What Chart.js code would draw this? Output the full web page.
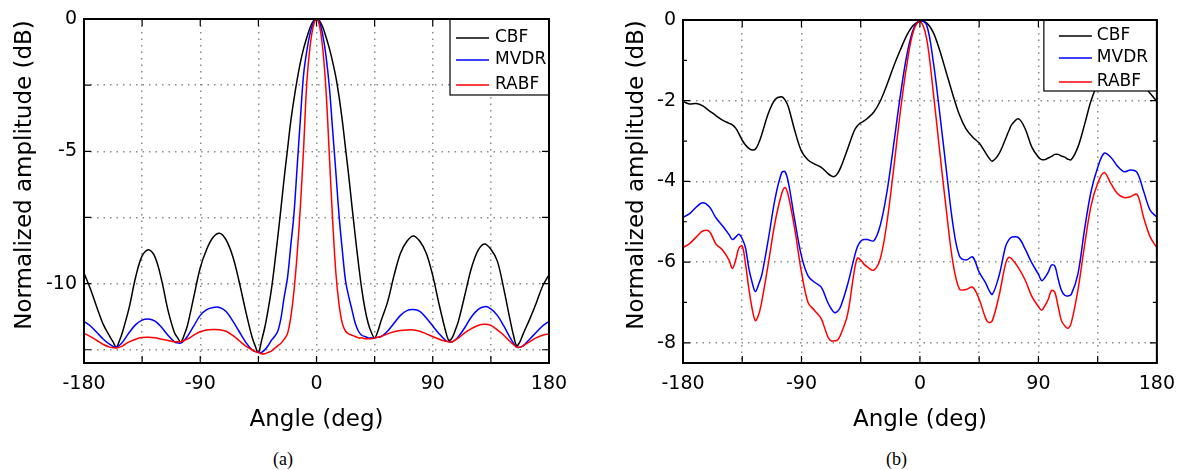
<!DOCTYPE html>
<html>
<head>
<meta charset="utf-8">
<script src="https://cdn.jsdelivr.net/npm/chart.js@4.4.1/dist/chart.umd.min.js"></script>
<style>
  body { margin: 0; background: #fff; width: 1185px; height: 470px; position: relative; overflow: hidden; }
  canvas { position: absolute; top: 0; }
  .cap { position: absolute; top: 450px; font: 18px "Liberation Serif", serif; line-height: 18px; color: #000; }
</style>
</head>
<body>
<canvas id="chartA" width="600" height="440" style="left:0"></canvas>
<canvas id="chartB" width="585" height="440" style="left:600px"></canvas>
<div class="cap" style="left:273px">(a)</div>
<div class="cap" style="left:886px">(b)</div>
<script>
// ---- data (a) ----
const anglesA = [
  -180, -175, -170, -165, -160, -157.5, -155, -152.5, -150, -145, -140, -135, -130, -125, -120, -115, -110,
  -107.5, -105, -102.5, -100, -95, -90, -85, -80, -75, -70, -65, -60, -55, -50, -47.5, -45,
  -42.5, -40, -37.5, -35, -32.5, -30, -27.5, -25, -22.5, -20, -17.5, -15, -12.5, -10, -7.5, -5, -2.5,
  0, 2.5, 5, 7.5, 10, 12.5, 15, 17.5, 20, 22.5, 25, 27.5, 30, 32.5, 35, 37.5, 40, 42.5,
  45, 47.5, 50, 55, 60, 65, 70, 75, 80, 85, 90, 95, 100, 102.5, 105, 107.5, 110,
  115, 120, 125, 130, 135, 140, 145, 150, 152.5, 155, 157.5, 160, 165, 170, 175, 180
];
const cbfA = [
  -9.6, -10.2, -10.9, -11.55, -12.0, -12.2, -12.4, -12.15, -11.8, -10.9, -9.75, -8.95, -8.72, -9.0, -9.85, -11.0, -11.85,
  -12.05, -12.2, -11.95, -11.6, -10.5, -9.4, -8.7, -8.25, -8.1, -8.35, -8.95, -9.9, -11.0, -12.0, -12.35, -12.6,
  -12.15, -11.65, -11.0, -10.25, -9.3, -8.25, -7.15, -6.0, -4.95, -3.9, -3.05, -2.3, -1.65, -1.12, -0.7, -0.33, -0.08,
  0, -0.08, -0.33, -0.7, -1.12, -1.62, -2.2, -2.95, -3.85, -4.9, -5.95, -7.1, -8.2, -9.25, -10.2, -10.95, -11.5, -11.85,
  -12.05, -11.8, -11.4, -10.7, -9.7, -8.85, -8.4, -8.2, -8.4, -8.85, -9.7, -10.8, -11.8, -12.15, -12.05, -11.75, -11.4,
  -10.4, -9.4, -8.75, -8.5, -8.7, -9.15, -10.2, -11.4, -11.95, -12.35, -12.2, -11.9, -11.35, -10.75, -10.1, -9.66
];
const mvdrA = [
  -11.43, -11.6, -11.85, -12.1, -12.3, -12.37, -12.4, -12.33, -12.2, -11.85, -11.55, -11.38, -11.34, -11.42, -11.65, -11.95, -12.2,
  -12.24, -12.25, -12.15, -12.0, -11.6, -11.2, -10.98, -10.9, -10.9, -11.05, -11.4, -11.8, -12.2, -12.5, -12.57, -12.6,
  -12.6, -12.5, -12.35, -12.15, -12.0, -11.8, -11.3, -10.5, -9.8, -8.6, -7.4, -5.6, -3.8, -2.1, -1.2, -0.55, -0.15,
  0, -0.15, -0.65, -1.45, -2.6, -4.2, -5.8, -7.45, -8.75, -9.9, -10.5, -11.0, -11.5, -11.8, -11.95, -12.0, -12.05, -12.05,
  -12.05, -12.03, -12.0, -11.8, -11.5, -11.2, -11.02, -10.98, -11.05, -11.3, -11.6, -11.9, -12.15, -12.2, -12.2, -12.12, -12.0,
  -11.65, -11.25, -10.98, -10.87, -10.95, -11.2, -11.6, -12.05, -12.25, -12.4, -12.4, -12.35, -12.1, -11.85, -11.6, -11.43
];
const rabfA = [
  -11.88, -12.0, -12.15, -12.3, -12.4, -12.42, -12.43, -12.4, -12.35, -12.2, -12.1, -12.04, -12.03, -12.05, -12.1, -12.15, -12.2,
  -12.2, -12.2, -12.15, -12.1, -11.95, -11.82, -11.75, -11.73, -11.74, -11.8, -11.95, -12.15, -12.35, -12.5, -12.56, -12.6,
  -12.65, -12.65, -12.6, -12.55, -12.45, -12.35, -12.25, -12.1, -11.9, -11.3, -10.3, -8.9, -7.1, -4.9, -2.4, -1.05, -0.28,
  0, -0.3, -1.2, -2.8, -5.2, -7.6, -9.6, -10.8, -11.5, -11.8, -11.9, -11.95, -12.0, -12.05, -12.05, -12.08, -12.08, -12.08,
  -12.05, -12.03, -12.0, -11.9, -11.82, -11.77, -11.75, -11.75, -11.8, -11.9, -12.0, -12.1, -12.18, -12.2, -12.2, -12.13, -12.05,
  -11.85, -11.7, -11.58, -11.54, -11.58, -11.75, -11.95, -12.2, -12.3, -12.4, -12.4, -12.35, -12.2, -12.05, -11.95, -11.9
];

// ---- data (b) ----
const anglesB = [
  -180, -175, -170, -165, -160, -155, -150, -145, -142.5, -140, -137.5, -135, -132.5, -130, -127.5,
  -125, -122.5, -120, -115, -110, -105, -102.5, -100, -95, -90, -85, -80, -75, -70, -67.5,
  -65, -62.5, -60, -55, -50, -47.5, -45, -42.5, -40, -35, -30, -25, -20, -15, -10,
  -5, 0, 5, 10, 15, 20, 25, 30, 35, 40, 45, 50, 52.5, 55, 60,
  65, 67.5, 70, 75, 80, 85, 90, 92.5, 95, 97.5, 100, 102.5, 105, 107.5, 110,
  112.5, 115, 120, 125, 130, 135, 140, 145, 150, 155, 160, 165, 170, 175, 180
];
const cbfB = [
  -2.02, -2.08, -2.07, -2.13, -2.25, -2.37, -2.48, -2.56, -2.6, -2.68, -2.82, -2.98, -3.1, -3.18, -3.22,
  -3.2, -3.05, -2.82, -2.3, -1.97, -1.9, -1.98, -2.15, -2.75, -3.25, -3.47, -3.57, -3.65, -3.8, -3.86,
  -3.88, -3.8, -3.64, -3.2, -2.75, -2.62, -2.55, -2.5, -2.44, -2.28, -2.0, -1.6, -1.15, -0.75, -0.38,
  -0.13, -0.03, -0.07, -0.3, -0.75, -1.3, -1.85, -2.35, -2.7, -2.9, -3.05, -3.3, -3.42, -3.5, -3.32,
  -2.95, -2.75, -2.58, -2.45, -2.7, -3.15, -3.4, -3.46, -3.46, -3.42, -3.38, -3.33, -3.33, -3.37, -3.4,
  -3.45, -3.46, -3.15, -2.6, -2.0, -1.6, -1.4, -1.3, -1.28, -1.3, -1.38, -1.5, -1.65, -1.82, -2.02
];
const mvdrB = [
  -4.89, -4.8, -4.64, -4.53, -4.63, -4.9, -5.1, -5.32, -5.44, -5.38, -5.31, -5.42, -5.65, -6.15, -6.5,
  -6.73, -6.55, -6.3, -5.4, -4.42, -3.78, -3.76, -4.02, -4.98, -5.85, -6.34, -6.5, -6.62, -7.0, -7.15,
  -7.25, -7.22, -7.08, -6.56, -5.9, -5.62, -5.48, -5.44, -5.44, -5.47, -5.07, -4.25, -3.1, -1.9, -0.88,
  -0.23, -0.02, -0.12, -1.0, -2.3, -3.7, -5.05, -5.85, -5.95, -5.87, -6.25, -6.52, -6.7, -6.8, -6.35,
  -5.62, -5.45, -5.38, -5.4, -5.68, -6.02, -6.3, -6.46, -6.38, -6.25, -6.07, -6.1, -6.42, -6.7, -6.82,
  -6.84, -6.8, -6.3, -5.2, -4.25, -3.66, -3.3, -3.4, -3.62, -3.76, -3.72, -3.78, -4.25, -4.72, -4.88
];
const rabfB = [
  -5.64, -5.54, -5.38, -5.23, -5.24, -5.55, -5.7, -5.95, -6.16, -5.95, -5.65, -5.6, -6.05, -6.65, -7.15,
  -7.45, -7.3, -6.95, -6.0, -5.0, -4.3, -4.15, -4.35, -5.2, -6.25, -7.0, -7.2, -7.4, -7.85, -7.95,
  -7.95, -7.93, -7.78, -7.3, -6.25, -5.9, -5.95, -6.05, -6.12, -6.2, -5.9, -5.0, -3.7, -2.3, -1.12,
  -0.28, -0.03, -0.45, -1.75, -3.25, -4.7, -6.0, -6.67, -6.68, -6.62, -6.92, -7.4, -7.5, -7.45, -6.85,
  -6.05, -5.88, -5.93, -6.15, -6.45, -6.85, -7.1, -7.19, -7.08, -6.92, -6.7, -6.75, -7.1, -7.45, -7.58,
  -7.64, -7.5, -6.7, -5.6, -4.6, -4.05, -3.78, -4.05, -4.3, -4.4, -4.38, -4.32, -4.9, -5.38, -5.64
];

const seriesNames = ['CBF', 'MVDR', 'RABF'];
const seriesColors = ['#000000', '#0000ff', '#ff0000'];
const xLabels = [-180, -90, 0, 90, 180];
const yLabelsA = [0, -5, -10];
const yLabelsB = [0, -2, -4, -6, -8];

Chart.defaults.font.family = 'DejaVu Sans';
Chart.defaults.color = '#000';

const toPoints = (xs, ys) => xs.map((x, i) => ({ x: x, y: ys[i] }));

// frame box, inward ticks, in-plot legend and axis titles
const framePlugin = {
    id: 'frame',
    afterDatasetsDraw(chart, args, opts) {
        const { ctx, chartArea: a, scales: { x, y } } = chart;
        ctx.save();
        ctx.strokeStyle = '#000';
        ctx.lineWidth = 1.2;
        ctx.beginPath();
        x.ticks.forEach(t => {
            const px = x.getPixelForValue(t.value);
            ctx.moveTo(px, a.bottom); ctx.lineTo(px, a.bottom - 7);
            ctx.moveTo(px, a.top); ctx.lineTo(px, a.top + 7);
        });
        y.ticks.forEach(t => {
            const py = y.getPixelForValue(t.value);
            const len = opts.minor && opts.minor(t.value) ? 4 : 7;
            ctx.moveTo(a.left, py); ctx.lineTo(a.left + len, py);
            ctx.moveTo(a.right, py); ctx.lineTo(a.right - len, py);
        });
        ctx.stroke();

        // legend
        const lg = opts.legend;
        const lx = a.right - lg.w, ly = a.top;
        ctx.fillStyle = '#fff';
        ctx.fillRect(lx, ly, lg.w, lg.h);
        ctx.lineWidth = 1.2;
        ctx.strokeRect(lx, ly, lg.w, lg.h);
        ctx.font = '17px "DejaVu Sans"';
        ctx.textBaseline = 'middle';
        ctx.textAlign = 'left';
        seriesNames.forEach((name, i) => {
            const ry = ly + lg.rows[i];
            ctx.strokeStyle = seriesColors[i];
            ctx.lineWidth = 1.5;
            ctx.beginPath();
            ctx.moveTo(lx + lg.line[0], ry); ctx.lineTo(lx + lg.line[1], ry);
            ctx.stroke();
            ctx.fillStyle = '#000';
            ctx.fillText(name, lx + lg.textX, ry);
        });

        // frame
        ctx.strokeStyle = '#000';
        ctx.lineWidth = 2;
        ctx.strokeRect(a.left, a.top, a.width, a.height);

        // axis titles
        ctx.fillStyle = '#000';
        ctx.font = '23px "DejaVu Sans"';
        ctx.textBaseline = 'alphabetic';
        ctx.textAlign = 'center';
        ctx.fillText('Angle (deg)', (a.left + a.right) / 2, opts.xTitleY);
        ctx.translate(opts.yTitle[0], opts.yTitle[1]);
        ctx.rotate(-Math.PI / 2);
        ctx.fillText('Normalized amplitude (dB)', 0, 0);
        ctx.restore();
    }
};

function makeChart(id, angles, values, yMin, yStep, yLabels, pad, yWidth, frameOpts) {
    const canvas = document.getElementById(id);
    return new Chart(canvas, {
        type: 'line',
        data: {
            datasets: values.map((vals, i) => ({
                label: seriesNames[i],
                data: toPoints(angles, vals),
                borderColor: seriesColors[i],
                borderWidth: 1.5,
                pointRadius: 0,
                tension: 0.35,
                fill: false
            })).reverse()
        },
        options: {
            responsive: false,
            devicePixelRatio: 1,
            animation: false,
            events: [],
            layout: { autoPadding: false, padding: pad },
            plugins: {
                legend: { display: false },
                tooltip: { enabled: false },
                frame: frameOpts
            },
            scales: {
                x: {
                    type: 'linear',
                    min: -180,
                    max: 180,
                    afterFit: s => { s.height = 77; },
                    ticks: {
                        stepSize: 45,
                        autoSkip: false,
                        maxRotation: 0,
                        includeBounds: false,
                        padding: 10,
                        font: { size: 19 },
                        callback: v => xLabels.includes(v) ? String(v) : ''
                    },
                    grid: { color: '#8a8a8a', lineWidth: 1.5, drawTicks: false, borderDash: [1.5, 5] },
                    border: { display: false, dash: [1.5, 5] }
                },
                y: {
                    min: yMin,
                    max: 0,
                    afterFit: s => { s.width = yWidth; },
                    ticks: {
                        stepSize: yStep,
                        autoSkip: false,
                        includeBounds: false,
                        padding: 7,
                        font: { size: 19 },
                        callback: v => yLabels.includes(v) ? String(v) : ''
                    },
                    grid: {
                        color: c => (frameOpts.minor && frameOpts.minor(c.tick.value)) ? 'rgba(0,0,0,0)' : '#8a8a8a',
                        lineWidth: 1.5,
                        drawTicks: false,
                        borderDash: [1.5, 5]
                    },
                    border: { display: false, dash: [1.5, 5] }
                }
            }
        },
        plugins: [framePlugin]
    });
}

document.addEventListener('DOMContentLoaded', () => {
    makeChart('chartA', anglesA, [cbfA, mvdrA, rabfA], -13, 2.5, yLabelsA,
        { left: 0, top: 19, right: 51, bottom: 0 }, 84,
        {
            legend: { w: 99, h: 76, rows: [19, 41, 66], line: [6, 39], textX: 45 },
            xTitleY: 426,
            yTitle: [31, 175]
        });
    makeChart('chartB', anglesB, [cbfB, mvdrB, rabfB], -8.5, 1, yLabelsB,
        { left: 0, top: 20, right: 22, bottom: 0 }, 83,
        {
            minor: v => Math.abs(v % 2) === 1,
            legend: { w: 113, h: 71, rows: [16, 38, 62], line: [15, 48], textX: 53 },
            xTitleY: 426,
            yTitle: [43, 175]
        });
});
</script>
</body>
</html>
